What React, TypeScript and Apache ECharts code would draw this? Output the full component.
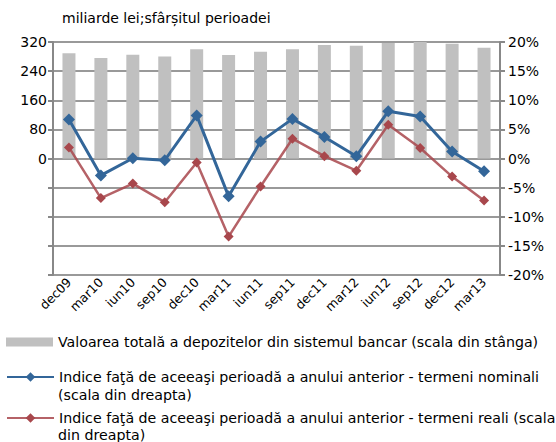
import React, { useEffect, useRef } from "react";
import * as echarts from "echarts";

const categories = ["dec09","mar10","iun10","sep10","dec10","mar11","iun11","sep11","dec11","mar12","iun12","sep12","dec12","mar13"];
const depositsTotal = [289, 276, 285, 280, 300, 284, 293, 300, 312, 310, 317, 320, 315, 304];
const nominalIndex = [6.7, -2.9, 0.05, -0.3, 7.4, -6.5, 2.9, 6.8, 3.7, 0.4, 8.1, 7.2, 1.2, -2.2];
const realIndex = [1.9, -6.8, -4.3, -7.5, -0.7, -13.4, -4.8, 3.4, 0.4, -2.1, 5.8, 1.8, -3.1, -7.2];

const nameBar = "Valoarea totală a depozitelor din sistemul bancar (scala din stânga)";
const nameNom = "Indice faţă de aceeaşi perioadă a anului anterior - termeni nominali";
const nameReal = "Indice faţă de aceeaşi perioadă a anului anterior - termeni reali (scala";
const nomCont = "(scala din dreapta)";
const realCont = "din dreapta)";

const FONT = "DejaVu Sans, sans-serif";
const BLUE = "#336699";
const RED = "#a8474c";
const LFS = 14.2;

export default function App() {
  const ref = useRef<HTMLDivElement>(null);
  useEffect(() => {
    const chart = echarts.init(ref.current!, null, { renderer: "svg" });
    const legendText = { fontFamily: FONT, fontSize: LFS, color: "#000" };
    chart.setOption({
      animation: false,
      backgroundColor: "#fff",
      textStyle: { fontFamily: FONT },
      title: {
        text: "miliarde lei;sfârșitul perioadei",
        left: 57,
        top: 6,
        textStyle: { fontFamily: FONT, fontSize: 14, fontWeight: "normal", color: "#000" },
      },
      grid: { left: 53, right: 56, top: 42, bottom: 167, containLabel: false },
      legend: [
        {
          data: [{ name: nameBar, icon: "rect" }],
          left: 6, top: 335, itemWidth: 47, itemHeight: 9, itemGap: 6, padding: 0,
          textStyle: legendText, selectedMode: false,
        },
        {
          data: [nameNom],
          left: 6, top: 370, itemWidth: 47, itemHeight: 12, padding: 0,
          textStyle: legendText, selectedMode: false,
        },
        {
          data: [nameReal],
          left: 6, top: 411, itemWidth: 47, itemHeight: 12, padding: 0,
          textStyle: legendText, selectedMode: false,
        },
      ],
      graphic: [
        { type: "text", left: 58, top: 388, style: { text: nomCont, fontFamily: FONT, fontSize: LFS, fill: "#000" } },
        { type: "text", left: 58, top: 428, style: { text: realCont, fontFamily: FONT, fontSize: LFS, fill: "#000" } },
      ],
      xAxis: {
        type: "category",
        data: categories,
        axisLine: { show: false },
        axisTick: { show: false },
        axisLabel: { rotate: 45, fontFamily: FONT, fontSize: 12.5, color: "#000", margin: 5, interval: 0 },
      },
      yAxis: [
        {
          type: "value",
          min: -320, max: 320, interval: 80,
          position: "left",
          axisLine: { show: true, lineStyle: { color: "#888", width: 2 } },
          axisTick: { show: true, length: 5, lineStyle: { color: "#888", width: 2 } },
          axisLabel: {
            fontFamily: FONT, fontSize: 14, color: "#000", margin: 6,
            formatter: (v: number) => (v >= 0 ? String(v) : ""),
          },
          splitLine: { show: true, lineStyle: { color: "#999", width: 2 } },
        },
        {
          type: "value",
          min: -20, max: 20, interval: 5,
          position: "right",
          axisLine: { show: true, lineStyle: { color: "#888", width: 2 } },
          axisTick: { show: true, length: 5, lineStyle: { color: "#888", width: 2 } },
          axisLabel: {
            fontFamily: FONT, fontSize: 14, color: "#000", margin: 8,
            formatter: (v: number) => v + "%",
          },
          splitLine: { show: false },
        },
      ],
      series: [
        {
          name: nameBar,
          type: "bar",
          yAxisIndex: 0,
          data: depositsTotal,
          barWidth: 13,
          itemStyle: { color: "#c0c0c0" },
          z: 1,
        },
        {
          name: nameNom,
          type: "line",
          yAxisIndex: 1,
          data: nominalIndex,
          symbol: "diamond",
          symbolSize: 12,
          lineStyle: { color: BLUE, width: 3 },
          itemStyle: { color: BLUE },
          z: 3,
        },
        {
          name: nameReal,
          type: "line",
          yAxisIndex: 1,
          data: realIndex,
          symbol: "diamond",
          symbolSize: 10,
          lineStyle: { color: RED, width: 2.5, opacity: 0.85 },
          itemStyle: { color: RED },
          z: 2,
        },
      ],
    });
    return () => chart.dispose();
  }, []);
  return <div ref={ref} style={{ position: "absolute", left: 0, top: 0, width: 556, height: 442 }} />;
}
